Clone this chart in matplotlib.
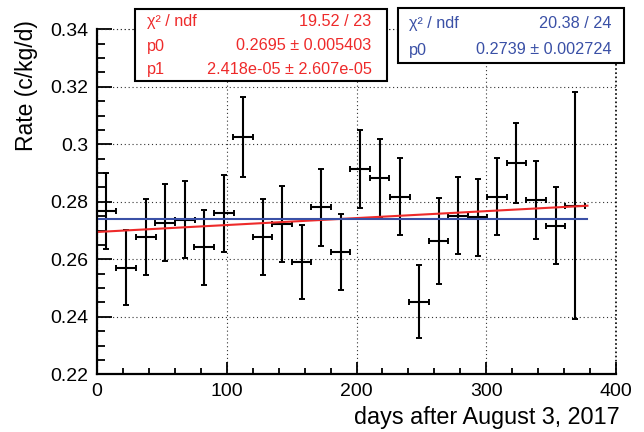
import numpy as np
import matplotlib
matplotlib.use("Agg")
import matplotlib.pyplot as plt
from matplotlib.patches import Rectangle
from matplotlib.ticker import MultipleLocator, FuncFormatter

plt.rcParams["font.family"] = ["Liberation Sans", "DejaVu Sans"]

# Data
days = [6.9, 22.3, 37.5, 52.6, 67.8, 82.7, 97.8, 112.7, 127.6, 142.5,
        157.7, 172.8, 187.7, 202.9, 217.8, 233.4, 248.3, 263.2, 278.4, 293.3,
        308.2, 323.3, 338.2, 353.4, 368.5]
rate = [0.2768, 0.2571, 0.2679, 0.2727, 0.2737, 0.2642, 0.2760, 0.3026, 0.2677, 0.2722,
        0.2592, 0.2781, 0.2625, 0.2914, 0.2884, 0.2818, 0.2453, 0.2664, 0.2752, 0.2746,
        0.2818, 0.2935, 0.2806, 0.2717, 0.2786]
rate_err = [0.0133, 0.0130, 0.0132, 0.0134, 0.0134, 0.0130, 0.0134, 0.0140, 0.0132, 0.0132,
            0.0129, 0.0134, 0.0132, 0.0137, 0.0136, 0.0135, 0.0127, 0.0150, 0.0133, 0.0135,
            0.0135, 0.0138, 0.0137, 0.0133, 0.0395]
day_halfwidth = 7.6

# Fit results shown in the stat boxes
lin_p0, lin_p1 = 0.2695, 2.418e-05
const_p0 = 0.2739
fit_range = [1.5, 378.0]

RED = "#ee2a2a"
BLUE = "#3a50a6"
GRID_STYLE = dict(color="#333333", linestyle=(0, (1, 2.5)), linewidth=0.8)

W, H = 644, 432
fig = plt.figure(figsize=(W / 100, H / 100), dpi=100)
ax = fig.add_axes([97 / W, (H - 374.3) / H, 519 / W, 345 / H])

ax.errorbar(days, rate, yerr=rate_err, xerr=day_halfwidth, fmt="none",
            ecolor="black", elinewidth=1.5, capsize=2.2, capthick=1.4, zorder=3)

fx = np.array(fit_range)
ax.plot(fx, lin_p0 + lin_p1 * fx, color=RED, lw=1.5, zorder=4)
ax.plot(fx, [const_p0, const_p0], color=BLUE, lw=1.5, zorder=4)

ax.set_xlim(0, 400)
ax.set_ylim(0.22, 0.34)
ax.xaxis.set_major_locator(MultipleLocator(100))
ax.xaxis.set_minor_locator(MultipleLocator(20))
ax.yaxis.set_major_locator(MultipleLocator(0.02))
ax.yaxis.set_minor_locator(MultipleLocator(0.005))
ax.yaxis.set_major_formatter(FuncFormatter(lambda v, pos: f"{round(v, 4):g}"))

ax.tick_params(which="both", direction="in", top=False, right=False,
               labelsize=14, width=1.3, color="black")
ax.tick_params(axis="x", which="major", length=8.5, pad=6)
ax.tick_params(axis="x", which="minor", length=4.5)
ax.tick_params(axis="y", which="major", length=11, pad=6)
ax.tick_params(axis="y", which="minor", length=5.5)

ax.grid(True, which="major", **GRID_STYLE)
for s in ["top", "right"]:
    ax.spines[s].set_visible(False)
for s in ["left", "bottom"]:
    ax.spines[s].set_linewidth(1.6)
# dotted frame at top and right like the grid
ax.axhline(0.34, clip_on=False, **GRID_STYLE)
ax.axvline(400, clip_on=False, color="black", linestyle=(0, (1, 1.5)), linewidth=1.2)

fig.text(26 / W, 1 - 20.5 / H, "Rate (c/kg/d)", rotation=90, ha="center", va="top",
         fontsize=16.5)
fig.text(620 / W, 1 - 424 / H, "days after August 3, 2017", ha="right", va="baseline",
         fontsize=16.8)


def stat_box(x0, y0, x1, y1, rows, color, lx, rx):
    fig.patches.append(Rectangle((x0 / W, 1 - y1 / H), (x1 - x0) / W, (y1 - y0) / H,
                                 transform=fig.transFigure, facecolor="white",
                                 edgecolor="black", linewidth=1.5, zorder=10))
    for (label, value, yc) in rows:
        fig.text(lx / W, 1 - yc / H, label, ha="left", va="center", color=color,
                 fontsize=11.7, zorder=11)
        fig.text(rx / W, 1 - yc / H, value, ha="right", va="center", color=color,
                 fontsize=11.7, zorder=11)


stat_box(134.5, 9.3, 386.7, 80.7,
         [("χ² / ndf", "19.52 / 23", 21.7),
          ("p0", "0.2695 ± 0.005403", 46.0),
          ("p1", "2.418e-05 ± 2.607e-05", 69.3)],
         RED, 146.7, 371.7)
stat_box(398.3, 8.3, 624.3, 63.3,
         [("χ² / ndf", "20.38 / 24", 23.3),
          ("p0", "0.2739 ± 0.002724", 50.0)],
         BLUE, 409.3, 611.7)

fig.savefig("out.png", dpi=100)
